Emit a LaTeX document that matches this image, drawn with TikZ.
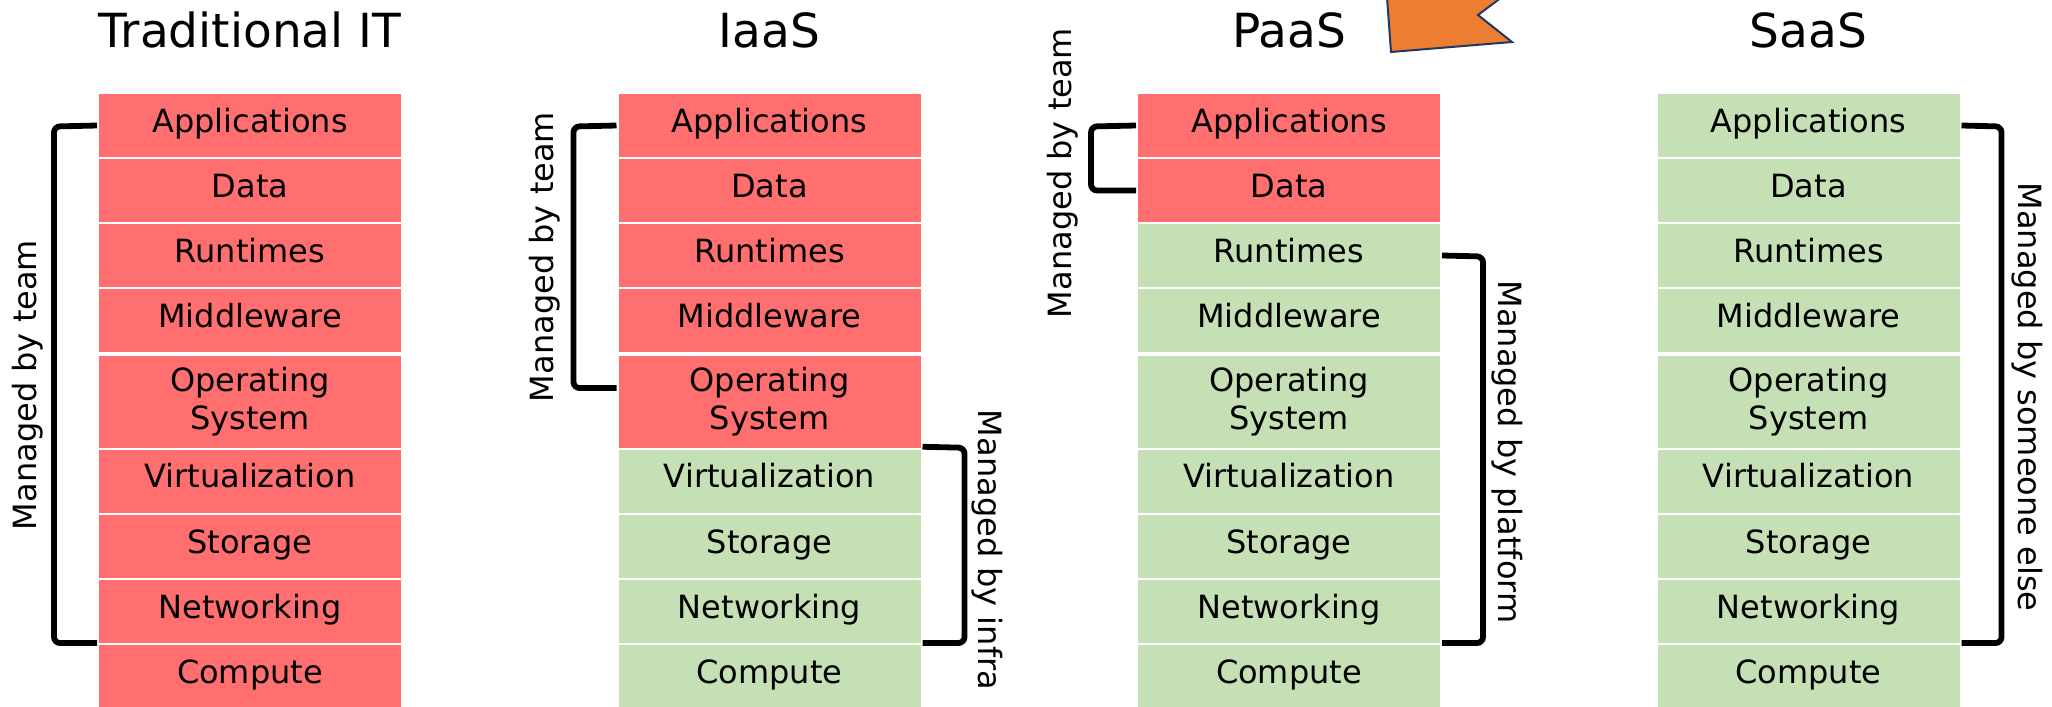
\documentclass[tikz,border=0pt]{standalone}
\usepackage{fontspec}
\setmainfont{DejaVu Sans}
\definecolor{redbox}{HTML}{FF6F6F}
\definecolor{greenbox}{HTML}{C5E0B4}
\definecolor{orangeflag}{HTML}{ED7D31}
\definecolor{navyedge}{HTML}{203864}
\tikzset{
  layer/.style={minimum width=152pt, draw=white, line width=1pt, inner sep=0pt,
    font=\fontsize{16pt}{19pt}\selectfont, text=black},
  single/.style={layer, minimum height=32.5pt, text height=11.2pt, text depth=4.5pt},
  coltitle/.style={font=\fontsize{23.5pt}{28pt}\selectfont, anchor=base, text=black},
  side/.style={font=\fontsize{16pt}{19pt}\selectfont, text=black, inner sep=0pt},
  bracket/.style={draw=black, line width=2.9pt, rounded corners=3pt},
}
\begin{document}
\begin{tikzpicture}[x=0.5pt, y=-0.5pt]
\useasboundingbox (0,0) rectangle (2052,707);

\foreach \c/\x/\nred/\ttl in {1/250/9/Traditional IT, 2/769.5/5/IaaS, 3/1289/2/PaaS, 4/1808.5/0/SaaS} {
  \foreach \nm/\txt/\yc/\i in {app/Applications/125.5/1, data/Data/190.5/2, run/Runtimes/255.5/3,
      mid/Middleware/320.5/4, sto/Storage/546.5/7, net/Networking/611.5/8, cmp/Compute/676.5/9} {
    \ifnum\i>\nred \def\fc{greenbox}\else\def\fc{redbox}\fi
    \node[single, fill=\fc] (c\c\nm) at (\x,\yc) {\txt};
  }
  \ifnum6>\nred \def\fc{greenbox}\else\def\fc{redbox}\fi
  \node[layer, fill=\fc, minimum height=33pt, text height=11.2pt, text depth=4.5pt] (c\c virt) at (\x,480.75) {Virtualization};
  \ifnum5>\nred \def\fc{greenbox}\else\def\fc{redbox}\fi
  \node[layer, fill=\fc, minimum height=47pt, align=center] (c\c os) at (\x,402) {Operating\\System};
  \node[coltitle] (t\c) at (\x,47) {\ttl};
}

% brackets
\draw[bracket] (c1app.west) -- ++(-21.5pt,-0.5pt) |- (c1cmp.north west);
\draw[bracket] (c2app.west) -- ++(-21.5pt,-0.5pt) |- ([yshift=7pt]c2os.west);
\draw[bracket] (c2virt.north east) -- ++(21pt,-0.5pt) |- (c2cmp.north east);
\draw[bracket] (c3app.west) -- ++(-22.5pt,-0.5pt) |- (c3data.west);
\draw[bracket] (c3run.east) -- ++(20.5pt,-0.5pt) |- (c3cmp.north east);
\draw[bracket] (c4app.east) -- ++(20pt,-0.5pt) |- (c4cmp.north east);

% bracket labels
\node[side, rotate=90] (m1) at (28,385) {Managed by team};
\node[side, rotate=90] (m2) at (545,257) {Managed by team};
\node[side, rotate=-90] (m2r) at (987,550) {Managed by infra};
\node[side, rotate=90] (m3) at (1063,173) {Managed by team};
\node[side, rotate=-90] (m3r) at (1507,452) {Managed by platform};
\node[side, rotate=-90] (m4r) at (2027,397) {Managed by someone else};

% orange flag (clipped at the top)
\begin{scope}
  \clip (0,0) rectangle (2052,707);
  \draw[fill=orangeflag, draw=navyedge, line width=1pt, line join=miter]
    (1385,-30) -- (1391,52) -- (1512,42) -- (1478,15) -- (1518,-15) -- cycle;
\end{scope}
\end{tikzpicture}
\end{document}
